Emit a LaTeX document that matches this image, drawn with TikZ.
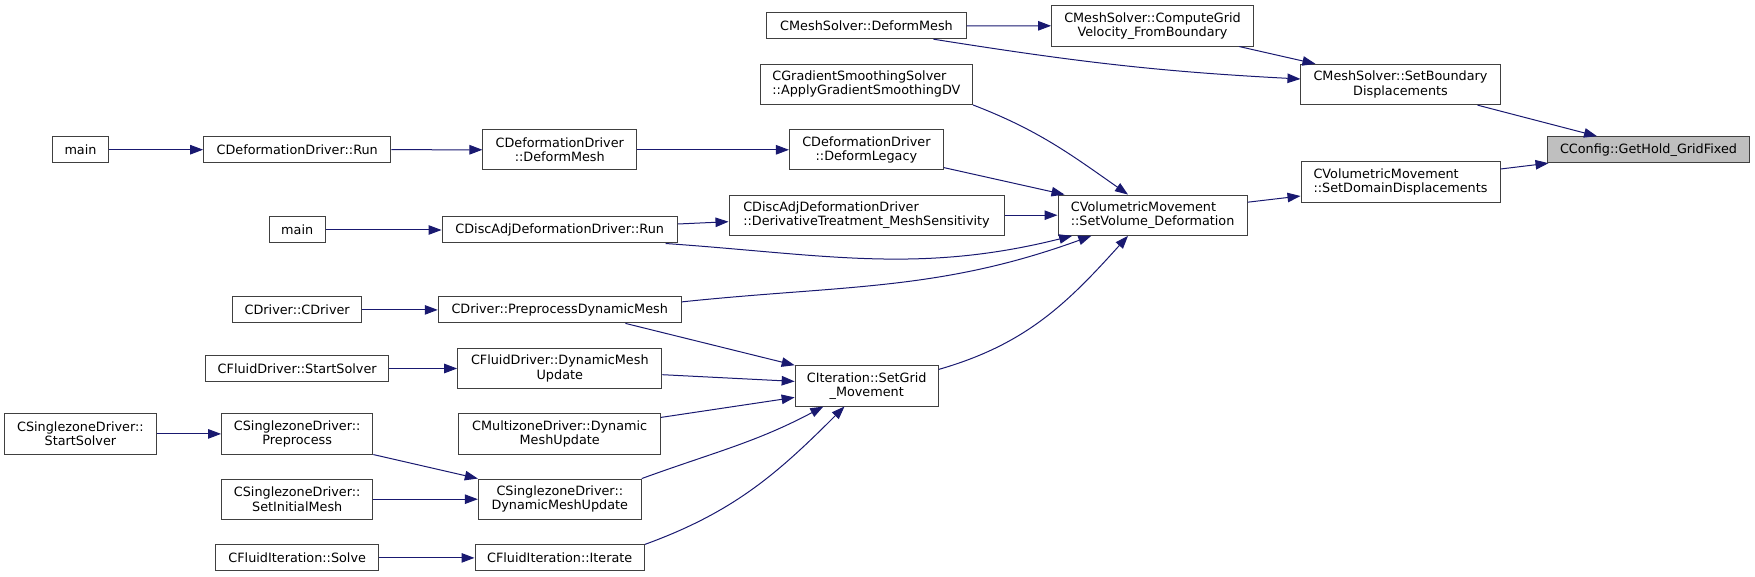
\documentclass[tikz,border=0pt]{standalone}
\usepackage{fontspec}
\setmainfont{DejaVu Sans}
\usetikzlibrary{arrows.meta}
\definecolor{navy}{HTML}{191970}
\definecolor{boxline}{HTML}{404040}
\definecolor{rootfill}{HTML}{BFBFBF}

\begin{document}
\begin{tikzpicture}[x=1pt, y=-1pt,
    fn/.style={draw=boxline, line width=1pt, fill=white, inner sep=1pt, minimum height=26, align=center,
      font=\fontsize{12.8}{14.3}\selectfont},
    fnl/.style={fn, align=left},
    tall/.style={minimum height=40.3},
    callarrow/.style={navy, line width=1pt, -{Triangle[length=13pt,width=9.5pt]}}]

    \useasboundingbox (0,0) rectangle (1755,577);

    \node[fn, minimum width=55.5] (main1) at (80.5,149.7) {main};
    \node[fn, minimum width=187.1] (drun) at (297.2,149.7) {CDeformationDriver::Run};
    \node[fn, tall, minimum width=153.7] (ddeform) at (559.8,149.8) {CDeformationDriver\\::DeformMesh};
    \node[fn, tall, minimum width=153.9] (dlegacy) at (866.4,149.8) {CDeformationDriver\\::DeformLegacy};
    \node[fn, minimum width=55.6] (main2) at (297.2,230) {main};
    \node[fn, minimum width=235.3] (darun) at (559.7,230) {CDiscAdjDeformationDriver::Run};
    \node[fnl, tall, minimum width=275] (dderiv) at (866.5,215.2) {CDiscAdjDeformationDriver\\::DerivativeTreatment\_MeshSensitivity};
    \node[fn, minimum width=199.3] (msdeform) at (866.5,25.7) {CMeshSolver::DeformMesh};
    \node[fn, tall, minimum width=201.8] (mscompute) at (1152.5,25.9) {CMeshSolver::ComputeGrid\\Velocity\_FromBoundary};
    \node[fnl, tall, minimum width=212.1] (gradsm) at (866.4,84.3) {CGradientSmoothingSolver\\::ApplyGradientSmoothingDV};
    \node[fnl, tall, minimum width=189.2] (setvol) at (1152.6,215.2) {CVolumetricMovement\\::SetVolume\_Deformation};
    \node[fn, tall, minimum width=199.1] (setbnd) at (1400.5,84.5) {CMeshSolver::SetBoundary\\Displacements};
    \node[fn, fill=rootfill, minimum width=201.4] (cconfig) at (1648.5,149.7) {CConfig::GetHold\_GridFixed};
    \node[fnl, tall, minimum width=199] (setdom) at (1400.5,182) {CVolumetricMovement\\::SetDomainDisplacements};
    \node[fn, minimum width=128.9] (cdriver) at (297.2,309.9) {CDriver::CDriver};
    \node[fn, minimum width=242.9] (preproc) at (559.7,309.9) {CDriver::PreprocessDynamicMesh};
    \node[fn, minimum width=183.3] (fstart) at (297.2,368.5) {CFluidDriver::StartSolver};
    \node[fn, tall, minimum width=204.3] (fdyn) at (559.8,368.5) {CFluidDriver::DynamicMesh\\Update};
    \node[fn, tall, minimum width=151.5] (sstart) at (80.4,433.9) {CSinglezoneDriver::\\StartSolver};
    \node[fn, tall, minimum width=151.2] (sprep) at (297.2,433.9) {CSinglezoneDriver::\\Preprocess};
    \node[fn, tall, minimum width=201.6] (mzdyn) at (559.7,433.9) {CMultizoneDriver::Dynamic\\MeshUpdate};
    \node[fn, tall, minimum width=151.2] (sinit) at (297.2,499.2) {CSinglezoneDriver::\\SetInitialMesh};
    \node[fn, tall, minimum width=162.9] (sdyn) at (559.8,499.2) {CSinglezoneDriver::\\DynamicMeshUpdate};
    \node[fn, minimum width=163.4] (fsolve) at (297.2,557.9) {CFluidIteration::Solve};
    \node[fn, minimum width=169.4] (fiter) at (559.7,557.9) {CFluidIteration::Iterate};
    \node[fn, tall, minimum width=143.1] (setgrid) at (866.7,385.9) {CIteration::SetGrid\\\_Movement};

    \draw[callarrow] (main1) -- (drun);
    \draw[callarrow] (drun) -- (ddeform);
    \draw[callarrow] (ddeform) -- (dlegacy);
    \draw[callarrow] ([yshift=-17.8pt]dlegacy.east) -- ([xshift=7pt]setvol.north west);
    \draw[callarrow] (gradsm.south east) to[out=-21, in=145] ([xshift=-24.6pt]setvol.north);
    \draw[callarrow] (dderiv) -- (setvol);
    \draw[callarrow] ([yshift=6pt]darun.east) -- ([yshift=-6.5pt]dderiv.west);
    \draw[callarrow] ([xshift=-12.3pt]darun.south east) to[out=-4, in=-166] ([xshift=14.6pt]setvol.south west);
    \draw[callarrow] (main2) -- (darun);
    \draw[callarrow] (msdeform) -- (mscompute);
    \draw[callarrow] ([xshift=-33.2pt]msdeform.south east) to[out=-9, in=177] ([yshift=5.5pt]setbnd.west);
    \draw[callarrow] ([xshift=-14.7pt]mscompute.south east) -- ([xshift=15pt]setbnd.north west);
    \draw[callarrow] ([xshift=-23pt]setbnd.south east) -- ([xshift=49.7pt]cconfig.north west);
    \draw[callarrow] ([yshift=13pt]setdom.east) -- ([xshift=1.2pt]cconfig.south west);
    \draw[callarrow] ([yshift=13pt]setvol.east) -- ([yshift=-14pt]setdom.west);
    \draw[callarrow] (cdriver) -- (preproc);
    \draw[callarrow] ([yshift=8pt]preproc.east) to[out=6, in=-160] ([xshift=33.8pt]setvol.south west);
    \draw[callarrow] ([yshift=16.5pt]setgrid.east) to[out=16, in=-132] ([xshift=-24.6pt]setvol.south);
    \draw[callarrow] ([xshift=-56.2pt]preproc.south east) -- (setgrid.north west);
    \draw[callarrow] ([yshift=-6.2pt]fdyn.east) -- ([yshift=4.5pt]setgrid.west);
    \draw[callarrow] ([yshift=16.5pt]mzdyn.east) -- ([yshift=-11.5pt]setgrid.west);
    \draw[callarrow] (sdyn.north east) to[out=20, in=-152] ([xshift=28.7pt]setgrid.south west);
    \draw[callarrow] (fiter.north east) to[out=20, in=-135] ([xshift=49.8pt]setgrid.south west);
    \draw[callarrow] (fstart) -- (fdyn);
    \draw[callarrow] (sstart) -- (sprep);
    \draw[callarrow] (sprep.south east) -- (sdyn.north west);
    \draw[callarrow] (sinit) -- (sdyn);
    \draw[callarrow] (fsolve) -- (fiter);

\end{tikzpicture}
\end{document}
